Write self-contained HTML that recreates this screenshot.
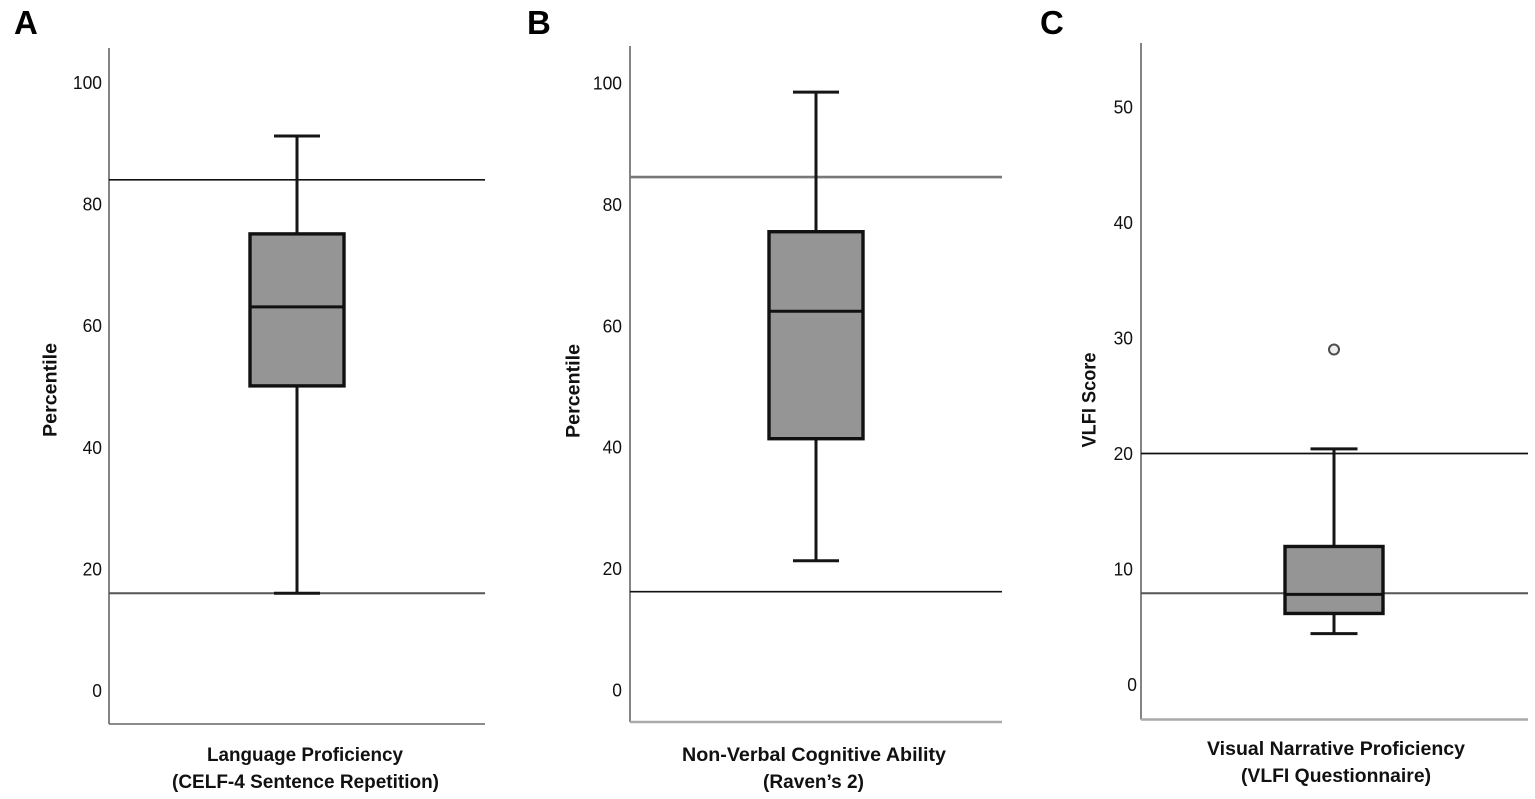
<!DOCTYPE html>
<html lang="en">
<head>
<meta charset="utf-8">
<title>Box plots of language proficiency, non-verbal cognitive ability and visual narrative proficiency</title>
<style>
  html, body { margin: 0; padding: 0; background: #fff; }
  svg { display: block; }
  text { font-family: "Liberation Sans", Arial, sans-serif; fill: #111; }
  .panel-letter { font-size: 33px; font-weight: 700; fill: #000; }
  .axis-title { font-size: 19.5px; font-weight: 700; }
  .tick { font-size: 18.5px; text-anchor: end; }
</style>
</head>
<body>
<svg id="figure" xmlns="http://www.w3.org/2000/svg" width="1535" height="799" viewBox="0 0 1535 799">
  <rect x="0" y="0" width="1535" height="799" fill="#fff"/>

  <text class="panel-letter" x="14" y="34">A</text>
  <text class="panel-letter" x="527" y="34">B</text>
  <text class="panel-letter" x="1040" y="34">C</text>

  <text class="axis-title" transform="translate(56.5 390) rotate(-90)" text-anchor="middle" textLength="94" lengthAdjust="spacingAndGlyphs">Percentile</text>
  <text class="axis-title" transform="translate(579.5 391) rotate(-90)" text-anchor="middle" textLength="94" lengthAdjust="spacingAndGlyphs">Percentile</text>
  <text class="axis-title" transform="translate(1095.5 400) rotate(-90)" text-anchor="middle" textLength="95" lengthAdjust="spacingAndGlyphs">VLFI Score</text>

  <text class="axis-title" x="207" y="761" textLength="196" lengthAdjust="spacingAndGlyphs">Language Proficiency</text>
  <text class="axis-title" x="172" y="788" textLength="267" lengthAdjust="spacingAndGlyphs">(CELF-4 Sentence Repetition)</text>
  <text class="axis-title" x="682" y="761" textLength="264" lengthAdjust="spacingAndGlyphs">Non-Verbal Cognitive Ability</text>
  <text class="axis-title" x="763" y="788" textLength="101" lengthAdjust="spacingAndGlyphs">(Raven’s 2)</text>
  <text class="axis-title" x="1207" y="755" textLength="258" lengthAdjust="spacingAndGlyphs">Visual Narrative Proficiency</text>
  <text class="axis-title" x="1241" y="782" textLength="190" lengthAdjust="spacingAndGlyphs">(VLFI Questionnaire)</text>
</svg>

<script>
// ---- Data ----
const panelIds = ['a', 'b', 'c'];

const tickValuesA = [0, 20, 40, 60, 80, 100];
const tickValuesB = [0, 20, 40, 60, 80, 100];
const tickValuesC = [0, 10, 20, 30, 40, 50];

// Five-number summaries: lower whisker, Q1, median, Q3, upper whisker
const summaryA = [16, 50.1, 63.1, 75.1, 91.2];
const summaryB = [21.3, 41.4, 62.4, 75.5, 98.5];
const summaryC = [4.4, 6.15, 7.8, 11.95, 20.4];

const referenceLinesA = [84, 16];
const referenceLinesB = [84.5, 16.2];
const referenceLinesC = [20, 7.9];

const outliersA = [];
const outliersB = [];
const outliersC = [29];

// ---- Layout and styling ----
const SVG_NS = 'http://www.w3.org/2000/svg';
const figure = document.getElementById('figure');

function makeAxis(zeroY, pixelsPerUnit) {
  return function (value) {
    return zeroY - pixelsPerUnit * value;
  };
}

const panels = [
  {
    ticks: tickValuesA, summary: summaryA, refs: referenceLinesA, outliers: outliersA,
    y: makeAxis(690.5, 6.08),
    axisX: 109, axisTop: 48, axisBottom: 724, axisRight: 485,
    center: 297, boxHalf: 47, capHalf: 23,
    tickRight: 102, zeroTickShift: 0,
    bottomStroke: '#666', bottomWidth: 1.6,
    refStrokes: ['#111', '#555'], refWidths: [1.6, 2]
  },
  {
    ticks: tickValuesB, summary: summaryB, refs: referenceLinesB, outliers: outliersB,
    y: makeAxis(690, 6.07),
    axisX: 630, axisTop: 46, axisBottom: 722, axisRight: 1002,
    center: 816, boxHalf: 47, capHalf: 23,
    tickRight: 622, zeroTickShift: 0,
    bottomStroke: '#aaa', bottomWidth: 2.6,
    refStrokes: ['#777', '#111'], refWidths: [2.6, 1.6]
  },
  {
    ticks: tickValuesC, summary: summaryC, refs: referenceLinesC, outliers: outliersC,
    y: makeAxis(684.5, 11.55),
    axisX: 1141, axisTop: 43, axisBottom: 719.5, axisRight: 1528,
    center: 1334, boxHalf: 49, capHalf: 23.5,
    tickRight: 1133, zeroTickShift: 4,
    bottomStroke: '#aaa', bottomWidth: 2.6,
    refStrokes: ['#111', '#555'], refWidths: [1.8, 2]
  }
];

function svgEl(tag, attrs) {
  const el = document.createElementNS(SVG_NS, tag);
  Object.keys(attrs).forEach(function (key) {
    el.setAttribute(key, attrs[key]);
  });
  figure.appendChild(el);
  return el;
}

function drawLine(x1, y1, x2, y2, stroke, width) {
  return svgEl('line', { x1: x1, y1: y1, x2: x2, y2: y2, stroke: stroke, 'stroke-width': width });
}

panels.forEach(function (p, index) {
  const id = panelIds[index];
  let el;

  // Axes
  el = drawLine(p.axisX, p.axisTop, p.axisX, p.axisBottom, '#666', 1.6);
  
  

  el = drawLine(p.axisX, p.axisBottom, p.axisRight, p.axisBottom, p.bottomStroke, p.bottomWidth);
  
  

  // Tick labels
  p.ticks.forEach(function (value) {
    const shift = value === 0 ? p.zeroTickShift : 0;
    const text = String(value);
    const label = svgEl('text', {
      class: 'tick', x: p.tickRight + shift, y: p.y(value) + 6.5,
      textLength: text.length * 9.7, lengthAdjust: 'spacingAndGlyphs'
    });
    label.textContent = text;
    
    
  });

  // Reference lines (drawn beneath the box plot marks)
  p.refs.forEach(function (value, refIndex) {
    const ry = p.y(value);
    const ref = drawLine(p.axisX, ry, p.axisRight, ry, p.refStrokes[refIndex], p.refWidths[refIndex]);
    
    
  });

  // Whiskers and caps
  const low = p.y(p.summary[0]);
  const q1 = p.y(p.summary[1]);
  const median = p.y(p.summary[2]);
  const q3 = p.y(p.summary[3]);
  const high = p.y(p.summary[4]);

  el = drawLine(p.center, q1, p.center, low, '#151515', 3);
  
  

  el = drawLine(p.center, q3, p.center, high, '#151515', 3);
  
  

  el = drawLine(p.center - p.capHalf, low, p.center + p.capHalf, low, '#151515', 3);
  
  

  el = drawLine(p.center - p.capHalf, high, p.center + p.capHalf, high, '#151515', 3);
  
  

  // Box and median
  el = svgEl('rect', {
    x: p.center - p.boxHalf, y: q3, width: p.boxHalf * 2, height: q1 - q3,
    fill: '#959595', stroke: '#111', 'stroke-width': 3.4
  });
  
  

  el = drawLine(p.center - p.boxHalf, median, p.center + p.boxHalf, median, '#111', 3);
  
  

  // Outliers
  p.outliers.forEach(function (value, outlierIndex) {
    const point = svgEl('circle', {
      cx: p.center, cy: p.y(value), r: 5,
      fill: '#eee', stroke: '#4d4d4d', 'stroke-width': 2
    });
    
    
  });
});
</script>
</body>
</html>
